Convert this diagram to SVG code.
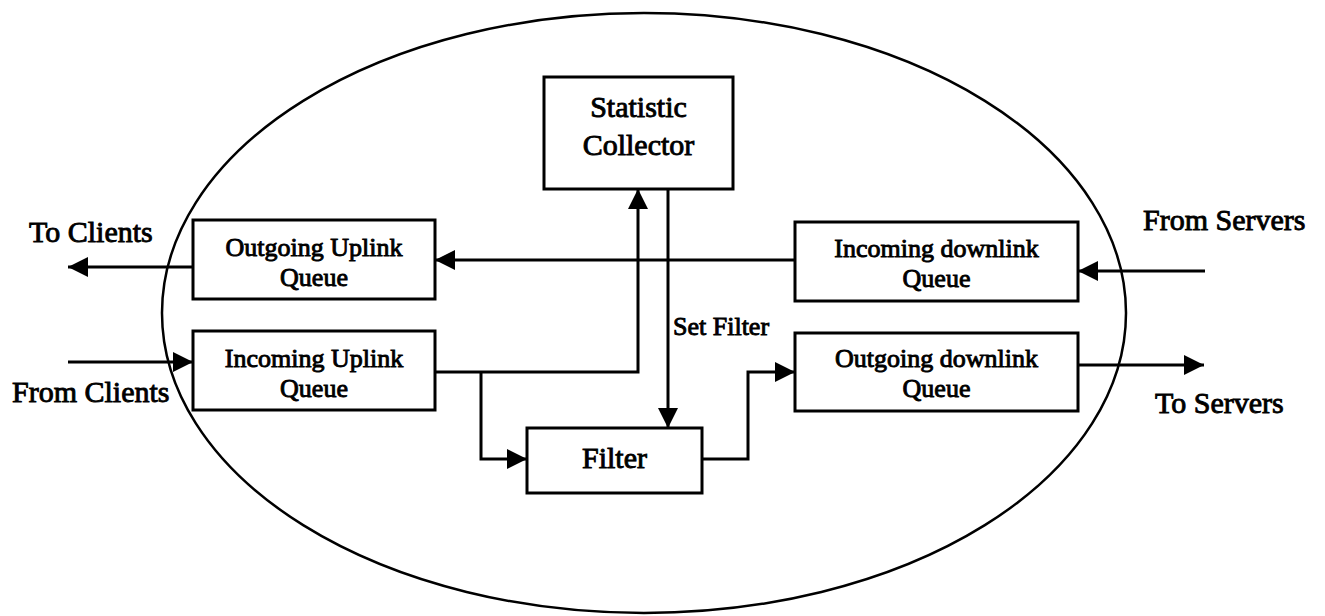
<svg xmlns="http://www.w3.org/2000/svg" width="1325" height="616" viewBox="0 0 1325 616">
<style>
  .box { fill: #fff; stroke: #000; stroke-width: 3; }
  .t { font-family: "Liberation Serif", "Times New Roman", serif; fill: #000; stroke: #000; stroke-width: 0.9; text-anchor: middle; }
  .s26 { font-size: 26px; }
  .s30 { font-size: 30px; }
  .lbl { font-family: "Liberation Serif", "Times New Roman", serif; fill: #000; stroke: #000; stroke-width: 0.9; font-size: 30px; }
  .c { fill: none; stroke: #000; stroke-width: 3; marker-end: url(#ah); }
</style>
<defs>
  <marker id="ah" markerUnits="userSpaceOnUse" markerWidth="22" markerHeight="22" refX="20" refY="10" orient="auto">
    <path d="M0,0 L20,10 L0,20 Z" fill="#000"/>
  </marker>
</defs>
<rect width="1325" height="616" fill="#fff"/>
<ellipse id="boundary" cx="644" cy="313" rx="482" ry="300" fill="none" stroke="#000" stroke-width="2.5"/>

<g id="connectors">
  <path class="c" d="M193,267 L68,267"/>
  <path class="c" d="M68,362 L193,362"/>
  <path class="c" d="M795,260 L435,260"/>
  <path class="c" d="M1205,271 L1078,271"/>
  <path class="c" d="M1078,365 L1204,365"/>
  <path class="c" d="M435,372 L638,372 L638,189"/>
  <path class="c" d="M481,372 L481,459 L527,459"/>
  <path class="c" d="M668,189 L668,428"/>
  <path class="c" d="M702,459 L748,459 L748,372 L795,372"/>
  <text class="lbl" x="673" y="335" style="font-size:26px">Set Filter</text>
</g>

<g id="stat">
  <rect class="box" x="544" y="77" width="189" height="112"/>
  <text class="t s30" x="638.5" y="117">Statistic</text>
  <text class="t s30" x="638.5" y="155">Collector</text>
</g>
<g id="filter">
  <rect class="box" x="527" y="428" width="175" height="65"/>
  <text class="t s30" x="614.5" y="468">Filter</text>
</g>
<g id="out-uplink">
  <rect class="box" x="193" y="220" width="242" height="79"/>
  <text class="t s26" x="314" y="256">Outgoing Uplink</text>
  <text class="t s26" x="314" y="286">Queue</text>
</g>
<g id="in-uplink">
  <rect class="box" x="193" y="331" width="242" height="79"/>
  <text class="t s26" x="314" y="367">Incoming Uplink</text>
  <text class="t s26" x="314" y="397">Queue</text>
</g>
<g id="in-downlink">
  <rect class="box" x="795" y="222" width="283" height="79"/>
  <text class="t s26" x="936.5" y="257">Incoming downlink</text>
  <text class="t s26" x="936.5" y="287">Queue</text>
</g>
<g id="out-downlink">
  <rect class="box" x="795" y="333" width="283" height="78"/>
  <text class="t s26" x="936.5" y="367">Outgoing downlink</text>
  <text class="t s26" x="936.5" y="397">Queue</text>
</g>

<g id="ext-labels">
  <text class="lbl" x="29" y="242">To Clients</text>
  <text class="lbl" x="12" y="402">From Clients</text>
  <text class="lbl" x="1143" y="230">From Servers</text>
  <text class="lbl" x="1155" y="413">To Servers</text>
</g>
</svg>
